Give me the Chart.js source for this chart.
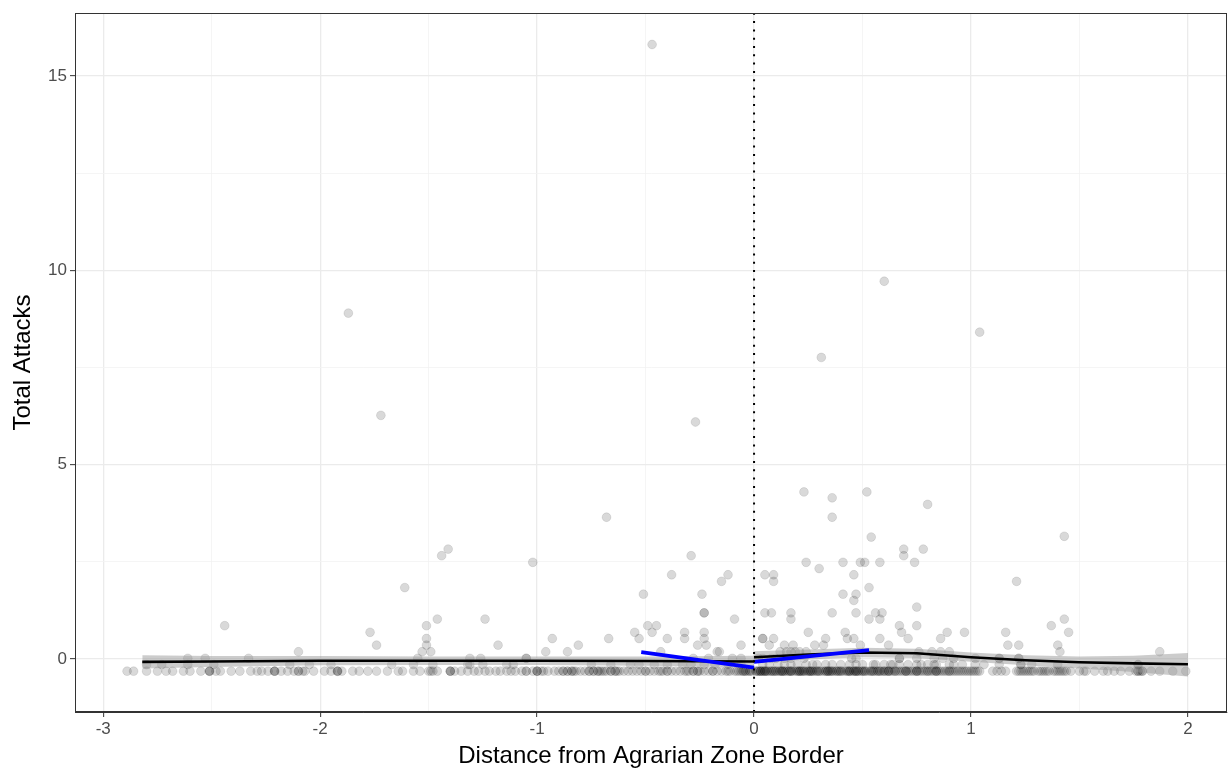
<!DOCTYPE html>
<html>
<head>
	<meta charset="utf-8">
	<title>Total Attacks by Distance</title>
	<style>
		html, body { margin: 0; padding: 0; background: #ffffff; }
		#wrap { width: 1228px; height: 771px; }
	</style>
</head>
<body>
	<div id="wrap"><canvas id="rdPlot" width="1228" height="771"></canvas></div>
	<script src="https://cdn.jsdelivr.net/npm/chart.js"></script>
	<script>
// axis ranges and ticks
const xMin = -3.13, xMax = 2.18;
const yMin = -1.36, yMax = 16.62;
const xMajor = [-3, -2, -1, 0, 1, 2];
const xMinor = [-2.5, -1.5, -0.5, 0.5, 1.5];
const yMajor = [0, 5, 10, 15];
const yMinor = [2.5, 7.5, 12.5];

// observations, grouped by the value they sit on
const rowLevels = [-0.31, -0.14, 0.02, 0.19, 0.36, 0.53, 0.69, 0.86, 1.03, 1.19];
const rowsX = [
  [-2.89, -2.86, -2.80, -2.75, -2.71, -2.68, -2.63, -2.60, -2.55, -2.51, -2.51, -2.48, -2.46, -2.41, -2.37, -2.32, -2.29, -2.27, -2.24, -2.21, -2.21, -2.18, -2.15, -2.12, -2.10, -2.08, -2.07, -2.03, -1.98, -1.95, -1.92, -1.92, -1.90, -1.85, -1.82, -1.78, -1.74, -1.69, -1.64, -1.62, -1.57, -1.54, -1.50, -1.49, -1.46, -1.40, -1.40, -1.38, -1.35, -1.32, -1.29,
   -1.27, -1.24, -1.22, -1.19, -1.17, -1.14, -1.12, -1.10, -1.07, -1.05, -1.05, -1.02, -1.00, -1.00, -0.97, -0.95, -0.92, -0.90, -0.88, -0.86, -0.84, -0.84, -0.82, -0.80, -0.78, -0.76, -0.74, -0.72, -0.72, -0.70, -0.68, -0.66, -0.64, -0.64, -0.62, -0.60, -0.58, -0.56, -0.54, -0.52, -0.50, -0.50, -0.48, -0.46, -0.44, -0.42, -0.40, -0.40, -0.38, -0.36, -0.34, -0.32, -0.30, -0.28, -0.26,
   -0.25, -0.23, -0.21, -0.19, -0.17, -0.15, -0.13, -0.11, -0.09, -0.07, -0.05, -0.05, -0.04, -0.03, -0.02, -0.01,
   0.01, 0.02, 0.03, 0.03, 0.04, 0.05, 0.05, 0.06, 0.08, 0.09, 0.10, 0.12, 0.13, 0.13, 0.14, 0.16, 0.17, 0.17, 0.18, 0.20, 0.21, 0.21, 0.22, 0.23, 0.25, 0.26, 0.26, 0.27, 0.29, 0.30, 0.31, 0.33, 0.34, 0.34, 0.35, 0.36, 0.38, 0.39, 0.40, 0.42, 0.43, 0.44, 0.44, 0.46, 0.47, 0.47, 0.48, 0.50, 0.51, 0.53, 0.54, 0.55, 0.57, 0.58, 0.60, 0.61, 0.62, 0.62, 0.64, 0.65, 0.67, 0.68, 0.70, 0.70, 0.71, 0.72, 0.74, 0.75, 0.75, 0.77, 0.78, 0.80, 0.81, 0.83, 0.84, 0.84, 0.86, 0.88, 0.89, 0.90, 0.91, 0.92, 0.94, 0.96, 0.97, 0.99, 1.01, 1.03,
   1.04, 1.10, 1.12, 1.14, 1.16, 1.21, 1.23, 1.24, 1.26, 1.27, 1.29, 1.31, 1.33, 1.34, 1.36, 1.38, 1.40, 1.42, 1.43, 1.46, 1.50, 1.52, 1.53, 1.57, 1.61, 1.63, 1.66, 1.69, 1.73, 1.76, 1.77, 1.79, 1.79, 1.83, 1.87, 1.93, 1.99,
   -2.51, -2.21, -2.10, -1.92, -1.48, -1.40, -1.00, -0.98, -0.88, -0.86, -0.83, -0.76, -0.74, -0.71, -0.69, -0.66, -0.63, -0.43, -0.31, -0.28, -0.26, -0.19, -0.12, -0.08, -0.06, -0.04, -0.02,
   0.01, 0.02, 0.04, 0.06, 0.07, 0.09, 0.11, 0.12, 0.14, 0.15, 0.17, 0.19, 0.20, 0.22, 0.24, 0.25, 0.27, 0.28, 0.30, 0.32, 0.33, 0.35, 0.37, 0.38, 0.40, 0.41, 0.43, 0.45, 0.46, 0.48, 0.49, 0.51, 0.52, 0.54, 0.56, 0.57, 0.59, 0.60, 0.63, 0.66, 0.69, 0.73, 0.76, 0.79, 0.82, 0.85, 0.87, 0.93, 0.95, 0.98, 1.00, 1.02,
   0.03, 0.05, 0.08, 0.10, 0.13, 0.16, 0.21, 0.23, 0.26, 0.29, 0.34, 0.36, 0.39, 0.44, 0.47, 0.50, 0.55, 0.58, 0.62, 0.65, 0.70, 0.75, 0.80, 0.84, 0.90,
   1.22, 1.25, 1.28, 1.32, 1.35, 1.39, 1.41, 1.44, 1.77, 1.78],
  [-2.80, -2.73, -2.61, -2.49, -2.14, -2.05, -1.95, -1.67, -1.57, -1.48, -1.32, -1.31, -1.25, -1.14, -1.11, -0.75, -0.66, -0.57, -0.53, -0.46, -0.40, -0.33, -0.29, -0.23, -0.18, -0.12, -0.06, 0.04, 0.07, 0.11, 0.14, 0.17, 0.20, 0.24, 0.27, 0.29, 0.33, 0.36, 0.40, 0.44, 0.47, 0.50, 0.55, 0.56, 0.60, 0.63, 0.64, 0.67, 0.71, 0.75, 0.77, 0.80, 0.83, 0.84, 0.90, 0.92, 0.96, 1.02, 1.06, 1.13, 1.23, 1.23, 1.28, 1.40, 1.77, 1.77],
  [-2.61, -2.53, -2.33, -1.55, -1.31, -1.26, -1.05, -1.05, -0.28, -0.21, -0.10, -0.06, 0.02, 0.04, 0.08, 0.10, 0.14, 0.17, 0.23, 0.45, 0.47, 0.67, 0.67, 0.75, 0.83, 0.87, 0.92, 1.02, 1.13, 1.13, 1.22, 1.22],
  [-2.10, -1.53, -1.49, -0.96, -0.86, -0.43, -0.17, -0.16, 0.12, 0.15, 0.17, 0.19, 0.21, 0.24, 0.76, 0.82, 0.86, 0.90, 1.41, 1.87],
  [-1.74, -1.51, -1.18, -0.81, -0.26, -0.22, -0.06, 0.07, 0.14, 0.18, 0.28, 0.32, 0.49, 0.62, 1.17, 1.22, 1.40],
  [-1.51, -0.93, -0.67, -0.53, -0.40, -0.32, -0.23, 0.04, 0.04, 0.09, 0.33, 0.43, 0.46, 0.58, 0.71, 0.86],
  [-1.77, -0.55, -0.47, -0.32, -0.23, 0.25, 0.42, 0.68, 0.89, 0.97, 1.16, 1.45],
  [-2.44, -1.51, -0.49, -0.45, 0.67, 0.75, 1.37],
  [-1.46, -1.24, -0.09, 0.17, 0.53, 0.58, 1.43],
  [-0.23, -0.23, 0.05, 0.08, 0.17, 0.36, 0.47, 0.56, 0.59]
];
const upperX = [0.75, 0.46, -0.51, -0.24, 0.41, 0.47, -1.61, 0.53, -0.15, 0.09, 1.21, -0.38, -0.12, 0.05, 0.09, 0.46, 0.30, -1.02, 0.24, 0.41, 0.49, 0.51, 0.58, 0.74, -1.44, -0.29, 0.69, -1.41, 0.69, 0.78, 0.54, 1.43, -0.68, 0.36, 0.80, 0.36, 0.23, 0.52, -0.27, -1.72, 0.31, 1.04, -1.87, 0.60, -0.47];
const upperY = [1.34, 1.51, 1.67, 1.67, 1.67, 1.67, 1.84, 1.84, 2.00, 2.00, 2.00, 2.17, 2.17, 2.17, 2.17, 2.17, 2.33, 2.49, 2.49, 2.49, 2.49, 2.49, 2.49, 2.49, 2.66, 2.66, 2.66, 2.83, 2.83, 2.83, 3.14, 3.16, 3.65, 3.65, 3.98, 4.15, 4.30, 4.30, 6.10, 6.27, 7.76, 8.41, 8.90, 9.72, 15.81];

// loess fits either side of the border, with their bands
const leftFitX = [-2.82, -2.5, -2.0, -1.5, -1.0, -0.5, 0];
const leftFitY = [-0.07, -0.06, -0.04, -0.04, -0.04, -0.05, -0.06];
const leftFitHi = [0.10, 0.08, 0.08, 0.07, 0.07, 0.07, 0.09];
const leftFitLo = [-0.24, -0.20, -0.16, -0.15, -0.15, -0.17, -0.21];
const rightFitX = [0, 0.25, 0.5, 0.75, 1.0, 1.25, 1.5, 1.75, 2.0];
const rightFitY = [0.05, 0.12, 0.17, 0.15, 0.05, -0.03, -0.08, -0.11, -0.13];
const rightFitHi = [0.20, 0.25, 0.29, 0.27, 0.17, 0.10, 0.07, 0.09, 0.16];
const rightFitLo = [-0.10, -0.01, 0.05, 0.03, -0.07, -0.16, -0.24, -0.33, -0.45];

// local linear fits (blue)
const blueLeftX = [-0.52, 0];
const blueLeftY = [0.18, -0.22];
const blueRightX = [0, 0.53];
const blueRightY = [-0.07, 0.23];

function pairs(xs, ys) {
  return xs.map((x, i) => ({ x: x, y: ys[i] }));
}

const points = [];
rowsX.forEach((xs, r) => xs.forEach(x => points.push({ x: x, y: rowLevels[r] })));
upperX.forEach((x, i) => points.push({ x: x, y: upperY[i] }));

const isMajor = (list, v) => list.some(m => Math.abs(m - v) < 1e-9);

// panel border on all four sides, like theme_bw
const panelBorder = {
  id: 'panelBorder',
  afterDatasetsDraw(chart) {
    const a = chart.chartArea;
    const c = chart.ctx;
    c.save();
    c.strokeStyle = '#333333';
    c.lineWidth = 1;
    c.strokeRect(a.left + 0.5, a.top + 0.5, a.right - a.left - 1, a.bottom - a.top - 1);
    c.restore();
  }
};

const lineDs = (data, color, width, order) => ({
  data: data, showLine: true, borderColor: color, borderWidth: width,
  pointRadius: 0, fill: false, tension: 0, order: order
});

new Chart(document.getElementById('rdPlot'), {
  type: 'scatter',
  data: {
    datasets: [
      {
        data: points,
        backgroundColor: 'rgba(0,0,0,0.15)',
        borderColor: 'rgba(0,0,0,0.12)',
        borderWidth: 0.8,
        pointRadius: 4.4,
        order: 50
      },
      lineDs(pairs(leftFitX, leftFitHi), 'rgba(0,0,0,0)', 0, 45),
      Object.assign(lineDs(pairs(leftFitX, leftFitLo), 'rgba(0,0,0,0)', 0, 44), { fill: '-1', backgroundColor: 'rgba(153,153,153,0.5)' }),
      lineDs(pairs(rightFitX, rightFitHi), 'rgba(0,0,0,0)', 0, 43),
      Object.assign(lineDs(pairs(rightFitX, rightFitLo), 'rgba(0,0,0,0)', 0, 42), { fill: '-1', backgroundColor: 'rgba(153,153,153,0.5)' }),
      lineDs(pairs(leftFitX, leftFitY), '#000000', 2.6, 30),
      lineDs(pairs(rightFitX, rightFitY), '#000000', 2.6, 29),
      lineDs(pairs(blueLeftX, blueLeftY), '#0000ff', 3.8, 20),
      lineDs(pairs(blueRightX, blueRightY), '#0000ff', 3.8, 19),
      Object.assign(lineDs([{ x: 0, y: yMin }, { x: 0, y: yMax }], '#000000', 2, 10), { borderDash: [2, 6.3] })
    ]
  },
  options: {
    responsive: false,
    animation: false,
    events: [],
    layout: { autoPadding: false, padding: { top: 13, right: 1, left: 0, bottom: 0 } },
    plugins: { legend: { display: false }, tooltip: { enabled: false } },
    scales: {
      x: {
        type: 'linear', min: xMin, max: xMax,
        afterBuildTicks: s => { s.ticks = xMajor.concat(xMinor).sort((a, b) => a - b).map(v => ({ value: v })); },
        afterFit: s => { s.height = 59; s.paddingLeft = 0; s.paddingRight = 0; },
        grid: {
          color: c => isMajor(xMajor, c.tick.value) ? '#ebebeb' : '#f3f3f3',
          lineWidth: c => isMajor(xMajor, c.tick.value) ? 1.3 : 0.8,
          tickColor: c => isMajor(xMajor, c.tick.value) ? '#333333' : 'rgba(0,0,0,0)',
          tickLength: 5,
          tickWidth: 1
        },
        border: { display: true, color: '#333333', width: 1 },
        ticks: {
          autoSkip: false, maxRotation: 0, padding: 2,
          color: '#4d4d4d', font: { family: 'Liberation Sans', size: 17 },
          callback: v => isMajor(xMajor, v) ? String(v) : ''
        },
        title: {
          display: true, text: 'Distance from Agrarian Zone Border', color: '#000000',
          font: { family: 'Liberation Sans', size: 24 }, padding: { top: 0, bottom: 0 }
        }
      },
      y: {
        type: 'linear', min: yMin, max: yMax,
        afterBuildTicks: s => { s.ticks = yMajor.concat(yMinor).sort((a, b) => a - b).map(v => ({ value: v })); },
        afterFit: s => { s.width = 75; s.paddingTop = 0; s.paddingBottom = 0; },
        grid: {
          color: c => isMajor(yMajor, c.tick.value) ? '#ebebeb' : '#f3f3f3',
          lineWidth: c => isMajor(yMajor, c.tick.value) ? 1.3 : 0.8,
          tickColor: c => isMajor(yMajor, c.tick.value) ? '#333333' : 'rgba(0,0,0,0)',
          tickLength: 5,
          tickWidth: 1
        },
        border: { display: true, color: '#333333', width: 1 },
        ticks: {
          autoSkip: false, padding: 3,
          color: '#4d4d4d', font: { family: 'Liberation Sans', size: 17 },
          callback: v => isMajor(yMajor, v) ? String(v) : ''
        },
        title: {
          display: true, text: 'Total Attacks', color: '#000000',
          font: { family: 'Liberation Sans', size: 24 }, padding: { top: 9, bottom: 0 }
        }
      }
    }
  },
  plugins: [panelBorder]
});
	</script>
</body>
</html>
